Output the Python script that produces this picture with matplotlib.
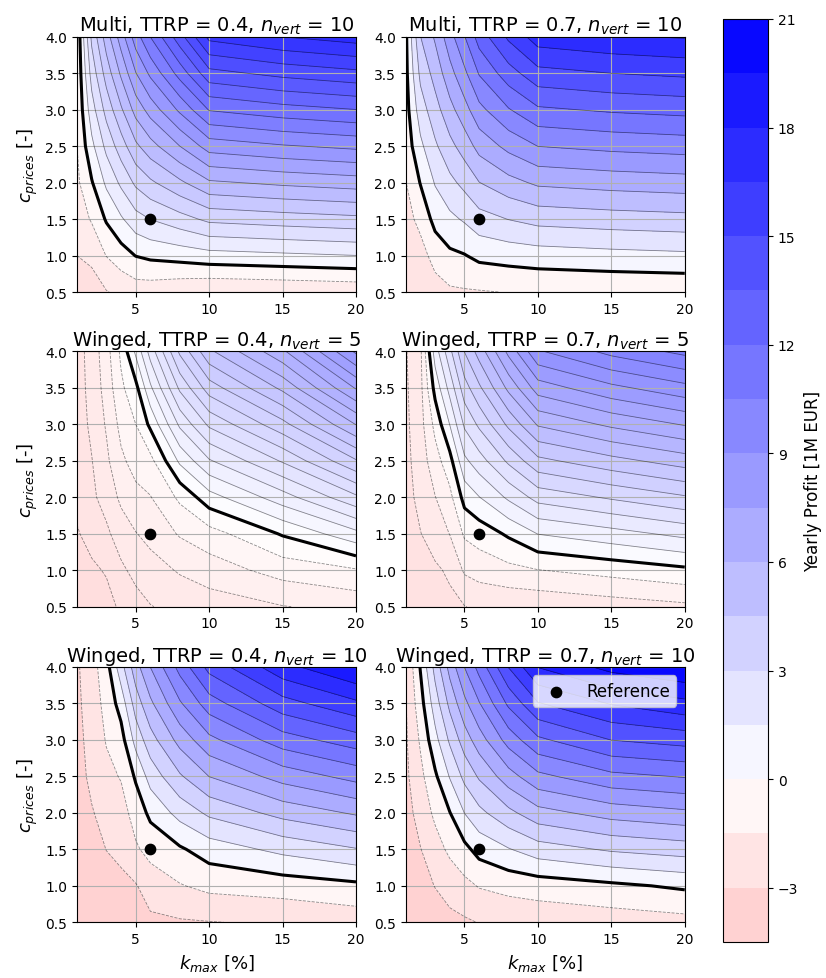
import numpy as np
import matplotlib
matplotlib.use("Agg")
import matplotlib.pyplot as plt
from matplotlib.colors import Normalize

# grid of the parameter study
k_max = [1, 2, 3, 4, 5, 6, 8, 10, 15, 20]
c_prices = [0.5, 1.0, 1.5, 2.0, 2.5, 3.0, 3.5, 4.0]

titles = [
    r"Multi, TTRP = 0.4, $n_{vert}$ = 10",
    r"Multi, TTRP = 0.7, $n_{vert}$ = 10",
    r"Winged, TTRP = 0.4, $n_{vert}$ = 5",
    r"Winged, TTRP = 0.7, $n_{vert}$ = 5",
    r"Winged, TTRP = 0.4, $n_{vert}$ = 10",
    r"Winged, TTRP = 0.7, $n_{vert}$ = 10",
]

# yearly profit [1M EUR]; one list per k_max value, entries along c_prices
profit_multi_04_n10 = [
    [-2.6, -2.0, -1.5, -1.2, -1.0, -0.9, -0.85, -0.8],
    [-2.56, -1.73, -0.91, -0.08, 0.74, 1.57, 2.39, 3.22],
    [-2.05, -0.97, 0.11, 1.19, 2.27, 3.35, 4.43, 5.51],
    [-1.78, -0.45, 0.87, 2.2, 3.52, 4.85, 6.17, 7.5],
    [-1.55, 0.03, 1.62, 3.2, 4.79, 6.37, 7.96, 9.54],
    [-1.58, 0.22, 2.02, 3.82, 5.62, 7.42, 9.22, 11.02],
    [-1.8, 0.4, 2.6, 4.8, 7.0, 9.2, 11.4, 13.6],
    [-1.98, 0.63, 3.24, 5.85, 8.46, 11.07, 13.68, 16.29],
    [-1.89, 0.81, 3.51, 6.21, 8.91, 11.61, 14.31, 17.01],
    [-1.76, 0.99, 3.74, 6.49, 9.24, 11.99, 14.74, 17.49],
]
profit_multi_07_n10 = [
    [-2.9, -2.6, -2.1, -1.55, -0.9, -0.6, -0.4, -0.3],
    [-2.9, -2.13, -1.03, 0.07, 1.17, 2.27, 3.37, 4.47],
    [-2.2, -0.9, 0.46, 1.61, 2.76, 3.91, 5.06, 6.21],
    [-1.74, -0.29, 1.16, 2.61, 4.06, 5.51, 6.96, 8.41],
    [-1.65, -0.07, 1.68, 3.43, 5.18, 6.93, 8.68, 10.43],
    [-1.6, 0.37, 2.42, 4.47, 6.52, 8.57, 10.62, 12.67],
    [-1.45, 0.59, 3.04, 5.49, 7.94, 10.39, 12.84, 15.29],
    [-1.35, 0.77, 3.52, 6.27, 9.02, 11.77, 14.52, 17.27],
    [-1.3, 1.01, 3.81, 6.61, 9.41, 12.21, 15.01, 17.81],
    [-1.25, 1.19, 4.01, 6.84, 9.66, 12.49, 15.31, 18.14],
]
profit_winged_04_n5 = [
    [-2.98, -2.8, -2.55, -2.35, -2.3, -2.25, -2.2, -2.2],
    [-2.85, -2.6, -2.3, -2.1, -2.02, -1.9, -1.85, -1.8],
    [-2.7, -2.45, -2.1, -1.8, -1.6, -1.45, -1.3, -1.2],
    [-2.4, -2.1, -1.75, -1.4, -1.1, -0.85, -0.6, -0.4],
    [-2.2, -1.85, -1.52, -1.15, -0.8, -0.5, -0.15, 0.6],
    [-2.02, -1.7, -1.35, -1.02, -0.65, 0.11, 0.91, 1.71],
    [-1.85, -1.45, -0.95, -0.4, 0.6, 1.6, 2.6, 3.6],
    [-1.75, -1.25, -0.7, 0.3, 1.45, 2.6, 3.75, 4.9],
    [-1.52, -0.8, 0.05, 1.28, 2.56, 3.84, 5.12, 6.4],
    [-1.35, -0.55, 0.85, 2.4, 3.95, 5.52, 7.05, 8.6],
]
profit_winged_07_n5 = [
    [-2.5, -2.45, -2.4, -2.35, -2.3, -2.25, -2.2, -2.15],
    [-2.5, -2.3, -2.12, -1.9, -1.75, -1.65, -1.6, -1.55],
    [-2.4, -2.2, -1.8, -1.42, -1.0, -0.5, 0.24, 1.04],
    [-2.25, -2.0, -1.38, -0.9, -0.25, 0.72, 1.65, 2.6],
    [-2.12, -1.3, -0.6, 0.25, 1.25, 2.22, 3.2, 4.22],
    [-2.0, -1.1, -0.4, 0.68, 1.8, 2.94, 4.07, 5.2],
    [-1.95, -0.9, 0.11, 1.53, 2.94, 4.36, 5.78, 7.2],
    [-1.95, -0.72, 0.72, 2.36, 4.02, 5.68, 7.34, 9.02],
    [-1.75, -0.45, 1.13, 2.9, 4.67, 6.45, 8.22, 10.02],
    [-1.55, -0.15, 1.6, 3.42, 5.24, 7.06, 8.88, 10.7],
]
profit_winged_04_n10 = [
    [-4.3, -4.1, -3.9, -3.7, -3.52, -3.4, -3.3, -3.2],
    [-4.1, -3.8, -3.52, -3.1, -2.7, -2.52, -2.3, -2.1],
    [-3.9, -3.52, -2.98, -2.52, -1.9, -1.4, -1.02, -0.6],
    [-3.7, -3.3, -2.7, -2.1, -1.4, -0.6, 0.6, 2.4],
    [-3.52, -3.1, -1.7, -0.9, 0.2, 2.02, 3.7, 5.4],
    [-3.3, -2.3, -1.02, 0.35, 2.1, 3.9, 5.7, 7.52],
    [-3.15, -1.6, -0.2, 2.02, 4.3, 6.52, 8.8, 11.02],
    [-3.05, -1.1, 0.7, 3.3, 6.02, 8.6, 11.3, 14.0],
    [-2.8, -0.8, 1.9, 5.02, 8.1, 11.3, 14.4, 17.52],
    [-2.4, -0.35, 2.9, 6.2, 9.52, 12.8, 16.2, 19.52],
]
profit_winged_07_n10 = [
    [-4.4, -4.2, -3.9, -3.6, -3.3, -3.2, -3.1, -2.98],
    [-4.1, -3.6, -3.05, -2.4, -1.9, -1.3, -0.6, 0.1],
    [-3.8, -2.95, -2.1, -1.2, -0.25, 1.02, 2.25, 3.52],
    [-3.4, -2.4, -1.2, -0.05, 1.6, 3.25, 4.9, 6.52],
    [-3.2, -1.9, -0.4, 1.52, 3.4, 5.25, 7.1, 9.02],
    [-2.95, -1.4, 0.52, 2.6, 4.7, 6.8, 8.9, 11.02],
    [-2.7, -1.02, 1.4, 4.1, 6.85, 9.62, 12.3, 15.05],
    [-2.52, -0.8, 2.3, 5.45, 8.62, 11.7, 14.9, 18.05],
    [-2.3, -0.3, 3.2, 6.62, 10.1, 13.52, 16.6, 20.0],
    [-2.02, 0.25, 3.7, 7.2, 10.6, 14.1, 17.6, 20.9],
]
profits = [profit_multi_04_n10, profit_multi_07_n10, profit_winged_04_n5,
           profit_winged_07_n5, profit_winged_04_n10, profit_winged_07_n10]

# contour level spacing per panel and index range of levels
level_steps = [1.0, 1.5, 0.5, 0.7, 1.5, 1.5]
level_ranges = [(-3, 18), (-2, 13), (-6, 18), (-4, 16), (-3, 14), (-3, 14)]

ref_k = [6]
ref_c = [1.5]
cbar_ticks = [-3, 0, 3, 6, 9, 12, 15, 18, 21]

fig = plt.figure(figsize=(8.26, 9.79), dpi=100)
lefts = [0.0932, 0.4912]
bottoms = [0.7007, 0.3793, 0.0569]
w, h = 0.3378, 0.2608
norm = Normalize(vmin=-21, vmax=21)
K, C = np.meshgrid(k_max, c_prices)

cf_last = None
for i in range(6):
    r, c = divmod(i, 2)
    ax = fig.add_axes([lefts[c], bottoms[r], w, h])
    Z = np.array(profits[i], dtype=float).T
    lo, hi = level_ranges[i]
    levels = level_steps[i] * np.arange(lo, hi + 1)
    cf = ax.contourf(K, C, Z, levels=levels, cmap="bwr_r", norm=norm)
    ax.contour(K, C, Z, levels=levels[levels != 0], colors="k",
               linewidths=0.6, alpha=0.45)
    ax.contour(K, C, Z, levels=[0], colors="k", linewidths=2.2)
    ax.scatter(ref_k, ref_c, color="k", s=55, zorder=5, label="Reference")
    ax.grid(True)
    ax.set_xlim(1, 20)
    ax.set_ylim(0.5, 4.0)
    ax.set_xticks([5, 10, 15, 20])
    ax.set_yticks(c_prices)
    ax.set_title(titles[i], fontsize=14, pad=4)
    if c == 0:
        ax.set_ylabel(r"$c_{prices}$ [-]", fontsize=13)
    if r == 2:
        ax.set_xlabel(r"$k_{max}$ [%]", fontsize=13)
    if i == 5:
        ax.legend(loc="upper right", fontsize=12)
    cf_last = cf

cax = fig.add_axes([0.8753, 0.0368, 0.0545, 0.9428])
cb = fig.colorbar(cf_last, cax=cax, ticks=cbar_ticks)
cb.set_label("Yearly Profit [1M EUR]", fontsize=12)

fig.savefig("out.png", dpi=100)
